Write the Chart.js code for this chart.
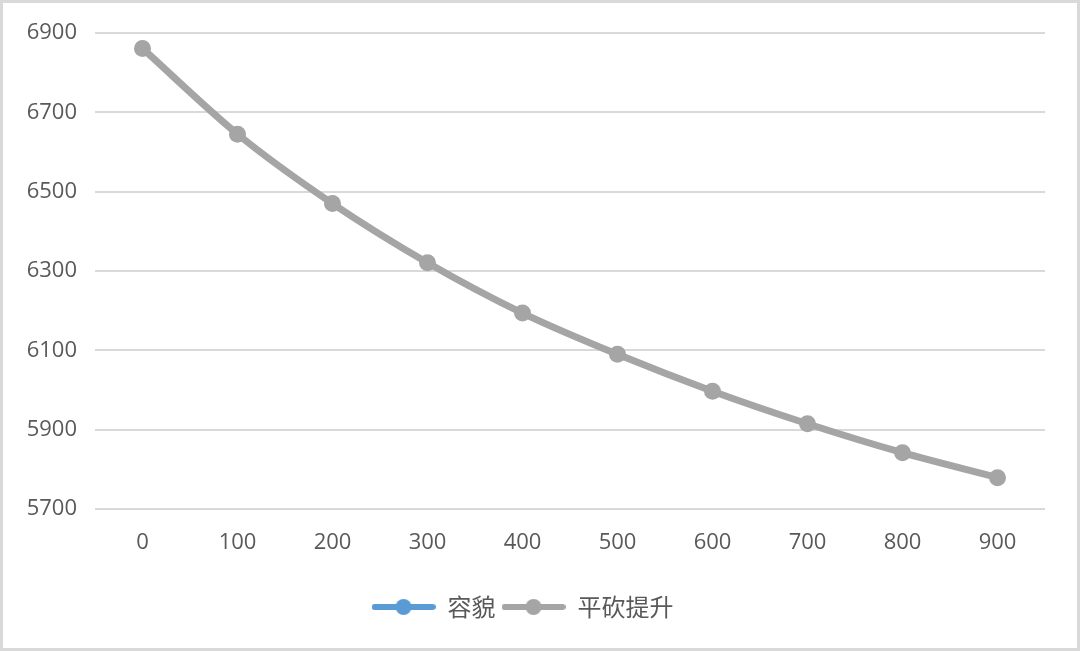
<!DOCTYPE html>
<html>
<head>
<meta charset="utf-8">
<script src="https://cdn.jsdelivr.net/npm/chart.js@4.4.1/dist/chart.umd.min.js"></script>
<style>
  html, body { margin: 0; padding: 0; background: #fff; }
  #wrap { position: relative; width: 1080px; height: 651px; }
</style>
</head>
<body>
<div id="wrap"><canvas id="mycanvas" width="1080" height="651"></canvas></div>
<script>
// data
var categories = ['0', '100', '200', '300', '400', '500', '600', '700', '800', '900'];
var rongmao = [6861, 6645, 6470, 6321, 6194, 6090, 5997, 5915, 5842, 5779];
var pingkan = [6861, 6645, 6470, 6321, 6194, 6090, 5997, 5915, 5842, 5779];
var seriesNames = ['容貌', '平砍提升'];
var yTicks = [5700, 5900, 6100, 6300, 6500, 6700, 6900];

var BLUE = '#5B9BD5';
var GREY = '#A5A5A5';

// little line + dot icon for the legend
function legendIcon(color) {
	var c = document.createElement('canvas');
	c.width = 64; c.height = 20;
	var g = c.getContext('2d');
	g.strokeStyle = color;
	g.lineWidth = 6;
	g.lineCap = 'round';
	g.beginPath();
	g.moveTo(3, 10); g.lineTo(61, 10);
	g.stroke();
	g.fillStyle = color;
	g.beginPath();
	g.arc(32, 10, 8, 0, Math.PI * 2);
	g.fill();
	return c;
}

// outer frame
var framePlugin = {
	id: 'frame',
	beforeDraw: function(chart) {
		var ctx = chart.ctx;
		ctx.save();
		ctx.fillStyle = '#fff';
		ctx.fillRect(0, 0, chart.width, chart.height);
		ctx.strokeStyle = '#D9D9D9';
		ctx.lineWidth = 3;
		ctx.strokeRect(1.5, 1.5, chart.width - 3, chart.height - 3);
		ctx.restore();
	}
};

var chartdata = {
	labels: categories,
	datasets: [
		{
			label: seriesNames[0],
			data: rongmao,
			borderColor: BLUE,
			backgroundColor: BLUE,
			borderWidth: 5,
			pointRadius: 7,
			pointBorderWidth: 0,
			tension: 0.3,
			order: 2,
			pointStyle: 'circle'
		},
		{
			label: seriesNames[1],
			data: pingkan,
			borderColor: GREY,
			backgroundColor: GREY,
			borderWidth: 7,
			pointRadius: 8.5,
			pointBorderWidth: 0,
			tension: 0.3,
			order: 1,
			pointStyle: 'circle'
		}
	]
};

var icons = [legendIcon(BLUE), legendIcon(GREY)];

var ctx = document.getElementById('mycanvas');
var lineGraph = new Chart(ctx, {
	type: 'line',
	data: chartdata,
	plugins: [framePlugin],
	options: {
		responsive: false,
		animation: false,
		layout: { padding: { top: 33, right: 35, bottom: 22, left: 0 } },
		scales: {
			x: {
				offset: true,
				grid: { display: false, drawTicks: false },
				border: { display: false },
				ticks: {
					color: '#595959',
					font: { family: 'Open Sans', size: 22 },
					padding: 21,
					maxRotation: 0
				},
				afterFit: function(scale) { scale.height = 80; }
			},
			y: {
				min: 5700,
				max: 6900,
				afterBuildTicks: function(scale) {
					scale.ticks = yTicks.map(function(v) { return { value: v }; });
				},
				grid: { color: '#D9D9D9', lineWidth: 2, drawTicks: false },
				border: { display: false },
				ticks: {
					color: '#595959',
					font: { family: 'Open Sans', size: 22 },
					padding: 18,
					callback: function(v) { return String(v); }
				},
				afterFit: function(scale) { scale.width = 95; }
			}
		},
		plugins: {
			tooltip: { enabled: false },
			legend: {
				position: 'bottom',
				labels: {
					usePointStyle: true,
					pointStyleWidth: 64,
					padding: 6,
					color: '#595959',
					font: { family: 'Noto Sans CJK SC', size: 24 },
					generateLabels: function(chart) {
						return chart.data.datasets.map(function(ds, i) {
							return {
								text: ds.label,
								pointStyle: icons[i],
								fillStyle: ds.borderColor,
								strokeStyle: ds.borderColor,
								lineWidth: 0,
								fontColor: '#595959',
								hidden: false,
								datasetIndex: i
							};
						});
					}
				}
			}
		}
	}
});
</script>
</body>
</html>
